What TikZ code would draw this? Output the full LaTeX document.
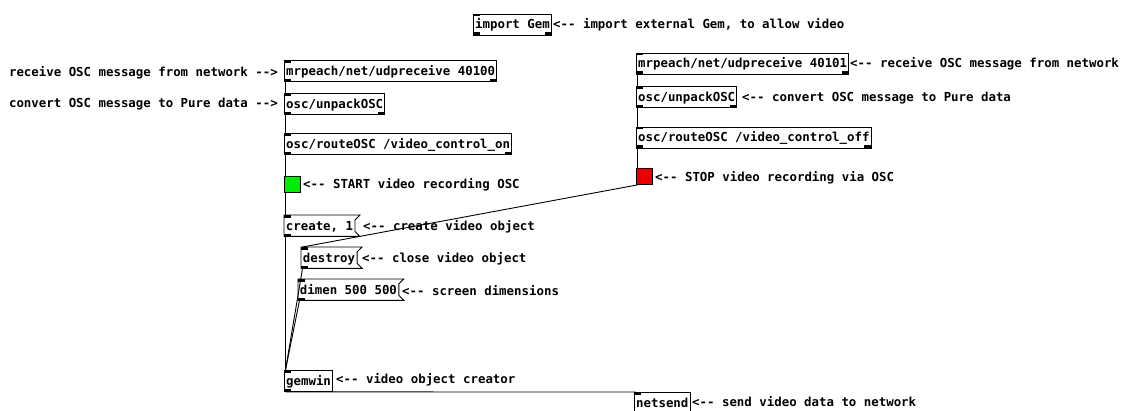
\documentclass[tikz,border=0pt]{standalone}
\usepackage{fontspec}
\setmonofont{DejaVu Sans Mono}
\usepackage{tikz}

\definecolor{bangon}{RGB}{0,235,0}
\definecolor{bangoff}{RGB}{235,0,0}

\tikzset{
	pd/.style={font=\ttfamily\bfseries\fontsize{12.4}{14}\selectfont, text height=9pt, text depth=0pt},
	iolets/.style={path picture={
		\fill (path picture bounding box.north west) rectangle ++(7pt,-2.5pt);
		\fill (path picture bounding box.south west) rectangle ++(7pt,2.5pt);}},
	twoout/.style={path picture={
		\fill (path picture bounding box.north west) rectangle ++(7pt,-2.5pt);
		\fill (path picture bounding box.south west) rectangle ++(7pt,2.5pt);
		\fill (path picture bounding box.south east) rectangle ++(-7pt,2.5pt);}},
	obj/.style={pd, draw=black, line width=0.9pt, anchor=north west, inner xsep=1.7pt, inner ysep=0pt, minimum height=21pt, iolets},
	msg/.style={pd, anchor=north west, inner xsep=1.7pt, inner ysep=0pt, minimum height=21pt, iolets},
	flag/.style={line width=0.9pt},
	bang/.style={draw=black, line width=0.9pt, anchor=north west, minimum size=16pt, inner sep=0pt, iolets},
	note/.style={pd, inner sep=0pt},
	wire/.style={line width=0.9pt},
}

\begin{document}
\begin{tikzpicture}[x=1pt, y=-1pt]
	
	\useasboundingbox (0,0) rectangle (1121,410);
	
	% objects
	\node[obj, twoout] (gem) at (473, 13.5)     {import Gem};
	\node[obj, twoout] (udpa) at (284, 60)      {mrpeach/net/udpreceive 40100};
	\node[obj, twoout] (unpacka) at (284, 93)   {osc/unpackOSC};
	\node[obj, twoout] (routea) at (284, 133)   {osc/routeOSC /video\_control\_on};
	\node[bang, fill=bangon] (start) at (284, 176) {};
	\node[msg] (create) at (284, 215)           {create, 1};
	\node[msg] (destroy) at (301, 247)          {destroy};
	\node[msg] (dimen) at (298, 279)            {dimen 500 500};
	\node[obj] (gemwin) at (284, 370)           {gemwin};
	\node[obj] (netsend) at (634, 392)          {netsend};
	\node[obj, twoout] (udpb) at (636, 52.5)    {mrpeach/net/udpreceive 40101};
	\node[obj, twoout] (unpackb) at (636, 86)   {osc/unpackOSC};
	\node[obj, twoout] (routeb) at (636, 126.5) {osc/routeOSC /video\_control\_off};
	\node[bang, fill=bangoff] (stop) at (636, 168) {};
	
	% message box flags
	\draw[flag] (create.north west) -- ([xshift=5pt]create.north east) -- ([yshift=-5pt]create.north east) -- ([yshift=5pt]create.south east) -- ([xshift=5pt]create.south east) -- (create.south west) -- cycle;
	\draw[flag] (destroy.north west) -- ([xshift=5pt]destroy.north east) -- ([yshift=-5pt]destroy.north east) -- ([yshift=5pt]destroy.south east) -- ([xshift=5pt]destroy.south east) -- (destroy.south west) -- cycle;
	\draw[flag] (dimen.north west) -- ([xshift=5pt]dimen.north east) -- ([yshift=-5pt]dimen.north east) -- ([yshift=5pt]dimen.south east) -- ([xshift=5pt]dimen.south east) -- (dimen.south west) -- cycle;
	
	% comments
	\node[note, anchor=west] (gemc) at (553, 24)      {<-- import external Gem, to allow video};
	\node[note, anchor=east] (udpac) at (278, 71.5)   {receive OSC message from network -->};
	\node[note, anchor=east] (unpackac) at (278, 103) {convert OSC message to Pure data -->};
	\node[note, anchor=west] (startc) at (303, 184)   {<-- START video recording OSC};
	\node[note, anchor=west] (createc) at (363, 226)  {<-- create video object};
	\node[note, anchor=west] (destroyc) at (362, 258) {<-- close video object};
	\node[note, anchor=west] (dimenc) at (402, 291)   {<-- screen dimensions};
	\node[note, anchor=west] (gemwinc) at (336, 379)  {<-- video object creator};
	\node[note, anchor=west] (netsendc) at (692, 402) {<-- send video data to network};
	\node[note, anchor=west] (udpbc) at (850, 63)     {<-- receive OSC message from network};
	\node[note, anchor=west] (unpackbc) at (742, 97)  {<-- convert OSC message to Pure data};
	\node[note, anchor=west] (stopc) at (655, 176.5)  {<-- STOP video recording via OSC};
	
	% connections
	\draw[wire] ([xshift=1.5pt]udpa.south west) -- ([xshift=1.5pt]unpacka.north west);
	\draw[wire] ([xshift=1.5pt]unpacka.south west) -- ([xshift=1.5pt]routea.north west);
	\draw[wire] ([xshift=1.5pt]routea.south west) -- ([xshift=1.5pt]start.north west);
	\draw[wire] ([xshift=1.5pt]start.south west) -- ([xshift=1.5pt]create.north west);
	\draw[wire] ([xshift=1.5pt]create.south west) -- ([xshift=1.5pt]gemwin.north west);
	\draw[wire] ([xshift=1.5pt]destroy.south west) -- ([xshift=1.5pt]gemwin.north west);
	\draw[wire] ([xshift=1.5pt]dimen.south west) -- ([xshift=1.5pt]gemwin.north west);
	\draw[wire] ([xshift=1.5pt]gemwin.south west) -- ([xshift=1.5pt]netsend.north west);
	\draw[wire] ([xshift=1.5pt]udpb.south west) -- ([xshift=1.5pt]unpackb.north west);
	\draw[wire] ([xshift=1.5pt]unpackb.south west) -- ([xshift=1.5pt]routeb.north west);
	\draw[wire] ([xshift=1.5pt]routeb.south west) -- ([xshift=1.5pt]stop.north west);
	\draw[wire] ([xshift=1.5pt]stop.south west) -- ([xshift=1.5pt]destroy.north west);
	
\end{tikzpicture}
\end{document}
